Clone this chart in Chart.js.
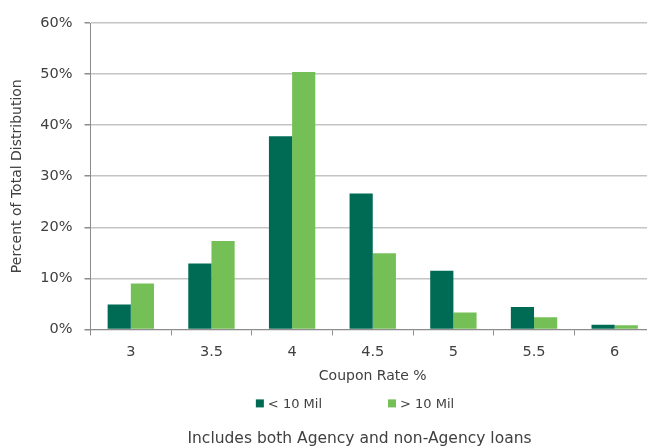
<!DOCTYPE html>
<html>
<head>
<meta charset="utf-8">
<script src="https://cdn.jsdelivr.net/npm/chart.js@4.4.1/dist/chart.umd.min.js"></script>
<style>
  html, body { margin: 0; padding: 0; background: #fff; overflow: hidden; }
  #wrap { width: 647px; height: 448px; overflow: hidden; }
</style>
</head>
<body>
<div id="wrap"><canvas id="c" width="720" height="448"></canvas></div>
<script>
/* Coupon rate distribution by loan size */

const couponRates = ["3", "3.5", "4", "4.5", "5", "5.5", "6"];
const under10Mil = [4.9, 12.9, 37.8, 26.6, 11.5, 4.4, 0.9];
const over10Mil  = [9.0, 17.3, 50.4, 14.9, 3.3, 2.4, 0.8];
const seriesNames = ["< 10 Mil", "> 10 Mil"];
const footNote = "Includes both Agency and non-Agency loans";

const FONT = "'DejaVu Sans', sans-serif";
const TEXT = "#404040";
const DARK = "#006B54";
const LIGHT = "#74C056";

// legend drawn under the axis title, spaced like the original
const bottomLegend = {
  id: "bottomLegend",
  afterLayout(chart){
    // the footnote sits a little right of the plot centre in the original
    const t = chart.titleBlock;
    if(t){ t.left += 32; t.right += 32; }
  },
  afterDraw(chart){
    const ctx = chart.ctx;
    const sets = chart.data.datasets;
    const box = 8, gap = 4, spacing = 66;
    ctx.save();
    ctx.font = "13px " + FONT;
    ctx.textBaseline = "middle";
    const widths = sets.map(d => box + gap + ctx.measureText(d.label).width);
    const total = widths.reduce((a,b) => a + b, 0) + spacing * (sets.length - 1);
    let x = 355 - total / 2;
    const y = chart.chartArea.bottom + 74;
    sets.forEach((d, i) => {
      ctx.fillStyle = d.backgroundColor;
      ctx.fillRect(x, y - box / 2, box, box);
      ctx.fillStyle = TEXT;
      ctx.fillText(d.label, x + box + gap, y + 1);
      x += widths[i] + spacing;
    });
    ctx.restore();
  }
};

new Chart(document.getElementById("c"), {
  type: "bar",
  data: {
    labels: couponRates,
    datasets: [
      { label: seriesNames[0], data: under10Mil, backgroundColor: DARK },
      { label: seriesNames[1], data: over10Mil, backgroundColor: LIGHT }
    ]
  },
  options: {
    responsive: false,
    animation: false,
    devicePixelRatio: 1,
    categoryPercentage: 0.575,
    barPercentage: 1,
    layout: { padding: { top: 23, right: 65, left: 0, bottom: 0 } },
    plugins: {
      legend: { display: false },
      tooltip: { enabled: false },
      title: {
        display: true,
        position: "bottom",
        text: footNote,
        color: TEXT,
        font: { family: FONT, size: 15.5, weight: "normal" },
        padding: { top: 45, bottom: 0 }
      }
    },
    scales: {
      x: {
        grid: { drawOnChartArea: false, tickLength: 6, tickColor: "#8c8c8c" },
        border: { color: "#8c8c8c", width: 1 },
        ticks: { color: TEXT, font: { family: FONT, size: 14.5 }, padding: 8 },
        title: {
          display: true,
          text: "Coupon Rate %",
          color: TEXT,
          font: { family: FONT, size: 14 },
          padding: { top: 5, bottom: 0 }
        },
        afterFit(scale){ scale.height = 55; }
      },
      y: {
        min: 0,
        max: 60,
        ticks: {
          stepSize: 10,
          color: TEXT,
          font: { family: FONT, size: 14.5 },
          padding: 12,
          callback: v => v + "%"
        },
        grid: { color: "#c4c4c4", lineWidth: 1.5, tickLength: 6, tickColor: "#8c8c8c" },
        border: { color: "#8c8c8c", width: 1 },
        title: {
          display: true,
          text: "Percent of Total Distribution",
          color: TEXT,
          font: { family: FONT, size: 14 },
          padding: { top: 9, bottom: 0 }
        },
        afterFit(scale){ scale.width = 90.5; }
      }
    }
  },
  plugins: [bottomLegend]
});
</script>
</body>
</html>
